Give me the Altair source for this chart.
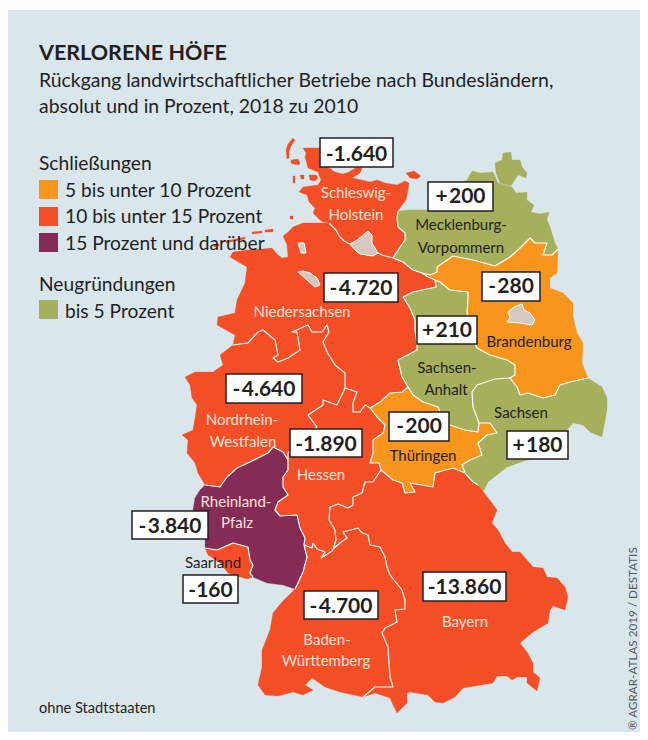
import altair as alt

# ---- map outline data, in map units (one unit per pixel of the original map) ----
J1=[329,223];J2=[393,258];J3=[398,211];J4=[422,273];J5=[435,280];J6=[408,387]
J7=[370,408];J8=[345,388];J9=[233,345];J10=[288,460];J11=[205,485];J12=[304,545]
J13=[333,549];J14=[381,470];J15=[465,473];J16=[479,423];J17=[510,378];J18=[588,378]
J19=[558,249];J20=[478,485];J21=[205,548];J22=[253,577];J23=[295,589];J24=[363,697]

sh_coast=[J3,[402,205],[406,200],[408,190],[409,183],[405,181],[397,185],[385,183],[377,180],[370,182],[362,180],[352,178],[360,173],[362,168],[357,167],[349,172],[343,174],[335,172],[325,165],[320,148],[303,148],[306,153],[305,157],[308,168],[318,172],[321,180],[318,185],[303,187],[299,192],[307,195],[309,202],[315,208],[313,213],[320,220],[323,222],J1]
sh_ni=[J1,[336,230],[340,237],[344,241],[350,244],[365,248],[378,253],[382,255],J2]
sh_mv=[J3,[397,218],[398,227],[405,233],[405,240],[398,250],J2]
ni_coast=[J1,[303,223],[298,225],[293,227],[287,233],[283,236],[287,245],[288,257],[282,258],[277,254],[272,248],[262,249],[247,250],[233,252],[230,257],[240,263],[247,267],[245,283],[237,300],[235,313],[218,317],[217,325],[235,335],J9]
ni_mv=[J2,[403,262],[413,270],J4]
ni_bb=[J4,[428,277],J5]
ni_st=[J5,[436,287],[413,292],[403,297],[410,308],[415,320],[415,330],[417,343],[417,350],[398,360],[402,377],J6]
ni_th=[J6,[402,392],[390,393],[380,402],J7]
ni_he=[J8,[357,392],[353,403],[353,412],[360,412],[365,405],J7]
ni_nrw=[J9,[248,343],[258,332],[263,330],[275,340],[278,355],[273,358],[278,362],[288,358],[300,350],[297,332],[292,332],[308,325],[312,332],[322,332],[327,325],[329,332],[323,342],[327,352],[335,365],[345,373],J8]
nrw_he=[J8,[337,405],[323,400],[323,405],[308,415],[317,427],[300,442],[288,453],J10]
nrw_rp=[J10,[283,452],[273,447],[268,453],[250,462],[237,468],[227,477],[220,487],J11]
nrw_coast=[J11,[198,473],[195,463],[187,453],[188,440],[182,435],[193,430],[195,418],[197,405],[192,398],[190,385],[185,377],[195,372],[213,372],[223,365],[220,355],J9]
rp_he=[J10,[288,470],[283,477],[283,487],[288,495],[278,502],[275,510],[280,516],[297,515],[300,528],[305,538],J12]
he_bw=[J12,[312,548],[313,543],[317,549],[325,552],[321,558],[332,551],J13]
rp_bw=[J12,[307,557],[303,572],[297,585],J23]
rp_coast=[J11,[200,490],[195,498],[193,510],[196,525],[208,530],[205,540],J21]
rp_sl=[J21,[217,550],[233,543],[248,547],[250,560],[253,565],[250,573],J22]
sl_coast=[J21,[208,555],[220,563],[228,573],[240,577],[247,579],J22]
rp_coast2=[J22,[267,583],[283,585],J23]
bw_coast=[J23,[282,602],[273,613],[270,630],[262,650],[262,667],[258,685],[265,695],[278,696],[293,692],[303,695],[313,690],[305,685],[312,678],[325,687],[340,692],J24]
bw_by=[J13,[340,543],[347,538],[343,532],[358,528],[362,533],[368,535],[370,545],[380,547],[385,557],[387,567],[390,575],[402,590],[405,600],[405,609],[395,610],[397,622],[385,628],[382,633],[388,647],[389,663],[390,677],[393,687],[375,687],J24]
he_by=[J13,[336,540],[335,530],[329,520],[330,507],[338,504],[348,508],[353,505],[353,497],[362,493],[365,482],[373,482],J14]
he_th=[J14,[379,463],[370,463],[373,453],[373,440],[383,433],[385,425],[377,417],J7]
th_by=[J14,[393,480],[402,483],[405,493],[415,492],[410,483],[433,487],[435,473],[453,468],J15]
th_st=[J6,[413,395],[423,402],[438,407],[440,412],[450,425],[465,430],[478,432],J16]
th_sn=[J16,[490,423],[497,433],[487,435],[478,443],[482,455],[470,460],[462,465],J15]
sn_by=[J15,[473,482],J20]
sn_st=[J16,[473,407],[472,392],[477,385],[495,379],J17]
st_bb=[J5,[440,282],[450,290],[468,292],[468,300],[467,313],[470,330],[477,348],[490,355],[507,360],[515,365],[515,375],J17]
sn_bb=[J17,[517,387],[520,395],[528,393],[543,398],[555,395],[560,385],[570,382],J18]
sn_coast=[J20,[483,492],[488,482],[507,467],[527,460],[550,455],[567,430],[573,423],[583,425],[590,432],[597,435],[602,437],[607,410],[607,398],[602,387],J18]
by_coast=[J20,[492,503],[497,510],[492,523],[498,530],[505,543],[512,552],[520,552],[533,567],[543,568],[547,577],[557,578],[565,587],[568,597],[565,610],[553,606],[550,610],[548,623],[533,632],[520,643],[527,652],[533,663],[533,672],[540,678],[537,691],[527,683],[527,677],[517,677],[512,680],[507,676],[497,676],[493,683],[463,688],[455,697],[443,703],[435,702],[428,695],[410,692],[407,693],[407,703],[397,713],[393,705],[390,698],[375,693],J24]
bb_coast=[J19,[558,253],[557,273],[550,278],[550,288],[563,293],[573,303],[573,317],[577,333],[583,343],[582,363],J18]
mv_bb=[J4,[430,275],[437,272],[437,267],[440,265],[453,256],[473,260],[495,266],[510,257],[518,250],[530,238],[535,243],[547,243],[543,255],[552,255],J19]
mv_coast=[J3,[410,210],[427,210],[440,195],[455,185],[467,180],[472,171],[480,173],[493,172],[498,183],[512,187],[516,193],[527,192],[527,200],[534,205],[531,212],[540,214],[549,212],[547,220],[550,227],[555,243],J19]

sylt=[[293,138],[295,140],[291,146],[289,152],[289,158],[287,159],[286,150],[288,144]]
foehr=[[291,160],[298,159],[300,163],[299,165],[293,164],[291,163]]
amrum=[[293,176],[295,176],[295,183],[293,183]]
pellworm=[[300,175],[304,175],[304,179],[301,179]]
nordstrand=[[309,175],[316,175],[318,178],[315,181],[310,180]]
helgoland=[[290,216],[293,216],[293,219],[290,219]]
fehmarn=[[406,173],[414,171],[421,176],[417,179],[410,178]]
frisian_1=[[214,245],[219,244],[219,246],[214,247]]
frisian_2=[[226,241],[245,237],[245,239],[226,243]]
frisian_3=[[252,232],[262,231],[262,233],[252,234]]
frisian_4=[[265,230],[273,229],[273,232],[265,232]]
ruegen=[[496,173],[495,163],[502,160],[503,153],[511,152],[512,160],[520,160],[522,167],[527,173],[526,178],[518,175],[511,186],[500,183],[498,178]]

hamburg=[[350,244],[357,240],[362,236],[368,231],[372,235],[372,243],[378,253],[373,256],[360,254],[355,250]]
bremen=[[298,272],[303,271],[310,273],[317,278],[320,285],[315,287],[307,280]]
bremerhaven=[[298,243],[304,243],[306,253],[301,253]]
berlin=[[508,312],[514,307],[522,304],[524,310],[530,313],[535,320],[532,325],[520,323],[507,322],[510,317]]

def rev(a): return a[::-1]
def ring(*arcs):
    out=[]
    for a in arcs: out+=a[:-1]
    out.append(out[0])
    return out
def closed(p): return p+[p[0]]

STATES=[
 ("c10",ring(sh_coast,sh_ni,rev(sh_mv))),
 ("c10",ring(ni_coast,ni_nrw,ni_he,rev(ni_th),rev(ni_st),rev(ni_bb),rev(ni_mv),rev(sh_ni))),
 ("c0",ring(sh_mv,ni_mv,mv_bb,rev(mv_coast))),
 ("c5",ring(rev(mv_bb),ni_bb,st_bb,sn_bb,rev(bb_coast))),
 ("c0",ring(ni_st,th_st,sn_st,rev(st_bb))),
 ("c0",ring(rev(sn_st),th_sn,sn_by,sn_coast,rev(sn_bb))),
 ("c5",ring(ni_th,rev(he_th),th_by,rev(th_sn),rev(th_st))),
 ("c10",ring(nrw_he,rp_he,he_bw,he_by,he_th,rev(ni_he))),
 ("c10",ring(ni_nrw,nrw_he,nrw_rp,nrw_coast)),
 ("c15",ring(rev(nrw_rp),rp_he,rp_bw,rev(rp_coast2),rev(rp_sl),rev(rp_coast))),
 ("c10",ring(rp_sl,rev(sl_coast))),
 ("c10",ring(rev(rp_bw),he_bw,bw_by,rev(bw_coast))),
 ("c10",ring(rev(bw_by),he_by,th_by,sn_by,by_coast)),
]
ISLANDS=[("c10",closed(p)) for p in [sylt,foehr,amrum,pellworm,nordstrand,helgoland,fehmarn,frisian_1,frisian_2,frisian_3,frisian_4]]+[("c0",closed(ruegen))]
CITIES=[closed(p) for p in [hamburg,bremen,bremerhaven,berlin]]
BORDERS=[sh_ni,sh_mv,ni_mv,ni_bb,ni_st,ni_th,ni_he,ni_nrw,nrw_he,nrw_rp,rp_he,he_bw,rp_bw,rp_sl,bw_by,he_by,he_th,th_by,th_st,th_sn,sn_by,sn_st,st_bb,sn_bb,mv_bb]

CLASSES=["c5","c10","c15","c0"]
COLORS=["#f8951d","#f44e27","#852c56","#a6b05c"]
BG="#d9e6ec"; INK="#231f20"; BEIGE="#d5c9bf"
FONT="Lato, Roboto, sans-serif"

# ---- texts ----
HEAD=[("VERLORENE HÖFE",39,60)]
SUB=[("Rückgang landwirtschaftlicher Betriebe nach Bundesländern,",39,87),
     ("absolut und in Prozent, 2018 zu 2010",39,113)]
LEG=[("Schließungen",39,170),("5 bis unter 10 Prozent",65,197),("10 bis unter 15 Prozent",65,223),
     ("15 Prozent und darüber",65,250),("Neugründungen",39,291),("bis 5 Prozent",65,318)]
SWATCHES=[("c5",39,58,180,199),("c10",39,58,207,226),("c15",39,58,233,252),("c0",39,58,300,319)]
NOTE=[("ohne Stadtstaaten",39,713)]
CREDIT=[("® AGRAR-ATLAS 2019 / DESTATIS",637,730)]
LIGHT=[("Schleswig-",356,198),("Holstein",356,220),("Niedersachsen",302,317),("Nordrhein-",242,425),
       ("Westfalen",243,447),("Hessen",321,480),("Rheinland-",236,507),("Pfalz",237,528),
       ("Baden-",327,645),("Württemberg",326,666),("Bayern",465,627)]
DARK=[("Mecklenburg-",461,230),("Vorpommern",461,253),("Brandenburg",529,347),("Sachsen-",447,373),
      ("Anhalt",446,395),("Sachsen",521,418),("Thüringen",423,461),("Saarland",213,568)]
BOXES=[("-1.640",320,393,138,167,161),("+\u200a200",428,493,182,211,203),("-\u200a4.720",324,398,273,302,295),
       ("-\u200a280",482,540,272,301,293),("+\u200a210",417,477,316,344,337),("-\u200a4.640",226,302,374,403,396),
       ("-\u200a200",389,449,412,441,433),("-1.890",290,362,429,457,451),("+\u200a180",507,568,431,459,452),
       ("-\u200a3.840",132,208,511,539,533),("-160",183,238,575,603,597),("-\u200a4.700",304,378,591,619,613),
       ("-13.860",423,506,572,601,594)]

# ---- layers ----
W=632
H=724
X=alt.Scale(domain=[8,8+W],nice=False,zero=False)
Y=alt.Scale(domain=[8+H,8],nice=False,zero=False)
PROJ=dict(type="identity",scale=1,translate=[-8,-8])
def x(f): return alt.X(f+":Q",scale=X,axis=None)
def y(f): return alt.Y(f+":Q",scale=Y,axis=None)
def poly(cls,r): return {"type":"Feature","properties":{"cls":cls},"geometry":{"type":"Polygon","coordinates":[r]}}
def line(a): return {"type":"Feature","properties":{},"geometry":{"type":"LineString","coordinates":a}}
CSCALE=alt.Scale(domain=CLASSES,range=COLORS)

card=alt.Chart(alt.Data(values=[{"a":8,"b":8+W,"c":10,"d":8+H}])).mark_rect(color=BG).encode(x=x("a"),x2="b:Q",y=y("c"),y2="d:Q")
fills=alt.Chart(alt.Data(values=[poly(c,r) for c,r in STATES+ISLANDS])).mark_geoshape(strokeWidth=0.3).encode(
    color=alt.Color("properties.cls:N",scale=CSCALE,legend=None),
    stroke=alt.Stroke("properties.cls:N",scale=CSCALE,legend=None)).project(**PROJ)
borders=alt.Chart(alt.Data(values=[line(a) for a in BORDERS])).mark_geoshape(filled=False,stroke="white",strokeWidth=1.2,strokeJoin="round").project(**PROJ)
cities=alt.Chart(alt.Data(values=[poly("city",r) for r in CITIES])).mark_geoshape(fill=BEIGE,stroke="white",strokeWidth=1).project(**PROJ)

def texts(rows,color,size,align="left",weight="normal",angle=None,font=FONT):
    kw=dict(align=align,baseline="alphabetic",color=color,fontSize=size,fontWeight=weight,font=font)
    if angle is not None: kw["angle"]=angle
    return alt.Chart(alt.Data(values=[{"t":t,"x":a,"y":b} for t,a,b in rows])).mark_text(**kw).encode(
        x=x("x"),y=y("y"),text="t:N")

swatches=alt.Chart(alt.Data(values=[{"cls":c,"a":a,"b":b,"c":t,"d":d} for c,a,b,t,d in SWATCHES])).mark_rect().encode(
    x=x("a"),x2="b:Q",y=y("c"),y2="d:Q",color=alt.Color("cls:N",scale=CSCALE,legend=None))
boxes=alt.Chart(alt.Data(values=[{"a":a,"b":b,"c":c,"d":d} for _,a,b,c,d,_b in BOXES])).mark_rect(
    fill="white",stroke=INK,strokeWidth=1.5).encode(x=x("a"),x2="b:Q",y=y("c"),y2="d:Q")

chart=alt.layer(
    card,fills,borders,cities,swatches,
    texts(HEAD,INK,21.5,weight="bold"),
    texts(SUB,INK,19.4),
    texts(LEG,INK,19.2),
    texts(NOTE,INK,14.6),
    texts(CREDIT,"#58595b",11.7,angle=270),
    texts(LIGHT,"#fde3d8",15,align="center"),
    texts(DARK,INK,15,align="center"),
    boxes,
    texts([(t,(a+b)/2,bl) for t,a,b,_c,_d,bl in BOXES],INK,21,align="center",weight="bold"),
).properties(
    width=W,height=H,padding=0,background="white",
    autosize=alt.AutoSizeParams(type="none")
).configure_view(stroke=None)

chart.save("out.html",embed_options={"renderer":"svg","actions":False})
